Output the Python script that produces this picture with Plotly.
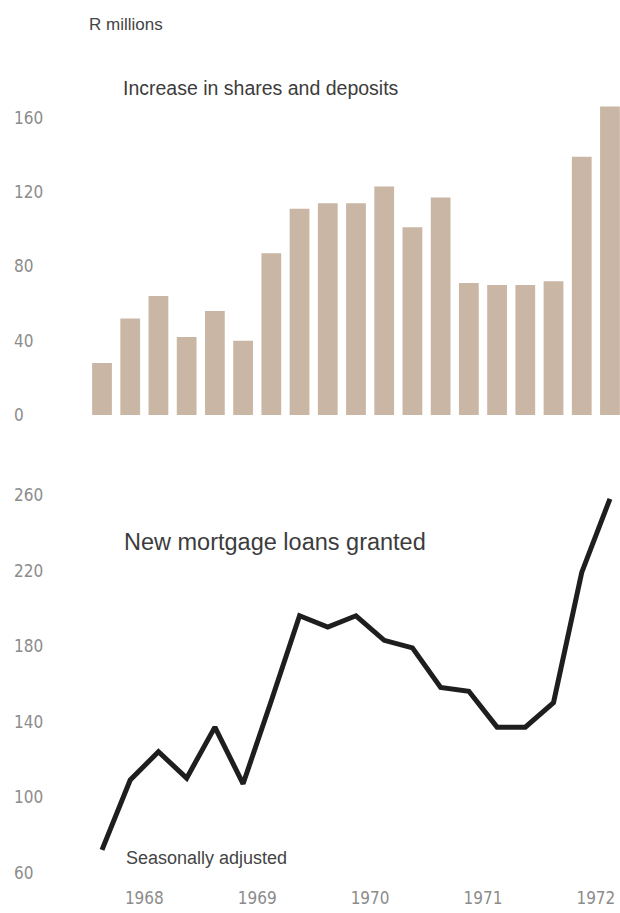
import plotly.graph_objects as go

# ---- data (quarterly, 1968 Q1 .. 1972 Q3) ----
quarters = list(range(19))
shares_deposits = [28, 52, 64, 42, 56, 40, 87, 111, 114, 114, 123, 101, 117, 71, 70, 70, 72, 139, 166]
mortgage_loans = [72, 109, 124, 110, 137, 107, 151, 196, 190, 196, 183, 179, 158, 156, 137, 137, 150, 219, 258]
year_ticks = [1.5, 5.5, 9.5, 13.5, 17.5]
year_labels = ["1968", "1969", "1970", "1971", "1972"]
top_ticks = [0, 40, 80, 120, 160]
bottom_ticks = [60, 100, 140, 180, 220, 260]

W, H = 620, 913
def py(p):
    return 1 - p / H

tick_font = dict(family="Liberation Sans Narrow, DejaVu Sans Condensed, Arial Narrow, sans-serif",
                 size=17, color="#8c8c8c")
text_font = "Liberation Sans, Arial, Helvetica, sans-serif"

fig = go.Figure()
fig.add_trace(go.Bar(x=quarters, y=shares_deposits, width=0.7,
                     marker=dict(color="#c9b6a5", line=dict(width=0)),
                     xaxis="x", yaxis="y", showlegend=False))
fig.add_trace(go.Scatter(x=quarters, y=mortgage_loans, mode="lines",
                         line=dict(color="#1e1e1e", width=5),
                         xaxis="x2", yaxis="y2", showlegend=False))

xr = [-102 / 28.22, (620 - 102) / 28.22]

annotations = []
for v in top_ticks:
    annotations.append(dict(text=str(v), x=12 / W, y=v, xref="paper", yref="y",
                            xanchor="left", yanchor="middle", showarrow=False, font=tick_font))
for v in bottom_ticks:
    annotations.append(dict(text=str(v), x=12 / W, y=v, xref="paper", yref="y2",
                            xanchor="left", yanchor="middle", showarrow=False, font=tick_font))
annotations += [
    dict(text="R millions", x=87 / W, y=py(25), xref="paper", yref="paper",
         xanchor="left", yanchor="middle", showarrow=False,
         font=dict(family=text_font, size=17, color="#444444")),
    dict(text="Increase in shares and deposits", x=121 / W, y=py(88), xref="paper", yref="paper",
         xanchor="left", yanchor="middle", showarrow=False,
         font=dict(family=text_font, size=19.5, color="#3c3c3c")),
    dict(text="New mortgage loans granted", x=122 / W, y=py(542), xref="paper", yref="paper",
         xanchor="left", yanchor="middle", showarrow=False,
         font=dict(family=text_font, size=23.5, color="#3c3c3c")),
    dict(text="Seasonally adjusted", x=124 / W, y=py(858), xref="paper", yref="paper",
         xanchor="left", yanchor="middle", showarrow=False,
         font=dict(family=text_font, size=18, color="#444444")),
]

fig.update_layout(
    width=W, height=H,
    margin=dict(l=0, r=0, t=0, b=0),
    paper_bgcolor="white", plot_bgcolor="white",
    xaxis=dict(domain=[0, 1], range=xr, showticklabels=False, showgrid=False,
               zeroline=False, showline=False, ticks="", anchor="y"),
    yaxis=dict(domain=[py(415), py(100)], range=[0, (415 - 100) / 1.858],
               showticklabels=False, showgrid=False, zeroline=False, showline=False,
               ticks="", anchor="x"),
    xaxis2=dict(domain=[0, 1], range=xr, tickvals=year_ticks, ticktext=year_labels,
                showgrid=False, zeroline=False, showline=False, ticks="",
                tickfont=tick_font, anchor="y2", ticklabelstandoff=6),
    yaxis2=dict(domain=[py(880), py(490)], range=[60 - 7.5 / 1.8875, 260 + 5 / 1.8875],
                showticklabels=False, showgrid=False, zeroline=False, showline=False,
                ticks="", anchor="x2"),
    annotations=annotations,
)

fig.write_html("out.html", config={"displayModeBar": False},
               post_script="document.body.style.margin='0';document.body.style.overflow='hidden';")
